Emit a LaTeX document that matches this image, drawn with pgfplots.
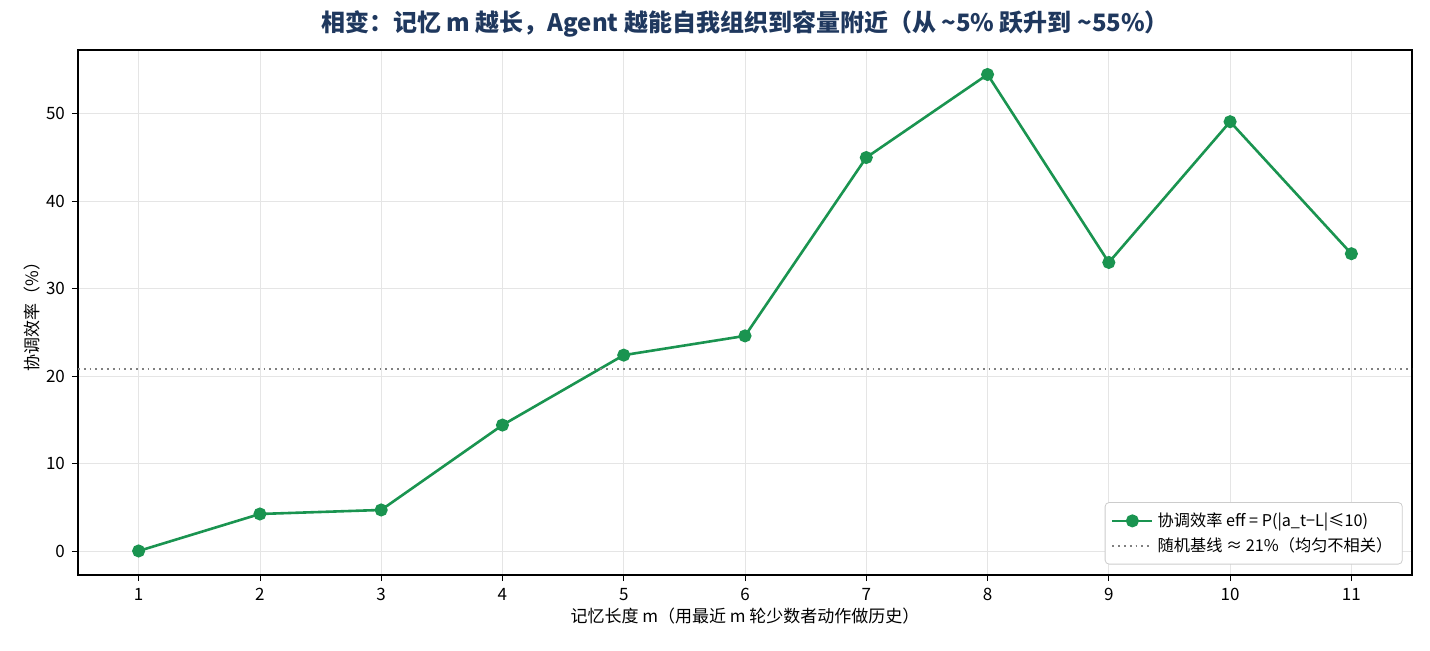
\documentclass[border=0pt]{standalone}
\usepackage{fontspec}
\setmainfont{Noto Sans CJK SC}
\usepackage{pgfplots}
\pgfplotsset{compat=1.18}
\definecolor{lgreen}{RGB}{26,148,80}
\definecolor{ttl}{RGB}{31,56,94}
\begin{document}
\begin{tikzpicture}
\begin{axis}[
  at={(0,0)}, anchor=south west,
  scale only axis,
  width=667pt, height=262.5pt,
  xmin=0.5, xmax=11.5, ymin=-2.75, ymax=57.3,
  xtick={1,...,11}, ytick={0,10,20,30,40,50},
  xtick pos=bottom, ytick pos=left,
  /pgf/number format/assume math mode=true,
  tick label style={font=\fontsize{8.5}{10}\selectfont},
  tick align=outside, tick style={black, thin},
  major tick length=3pt,
  grid=major, grid style={gray!20, line width=0.4pt},
  axis line style={black, line width=0.6pt},
  title={\textbf{相变：记忆 m 越长，Agent 越能自我组织到容量附近（从 \textasciitilde5\% 跃升到 \textasciitilde55\%）}},
  title style={font=\fontsize{12}{14}\selectfont, color=ttl, yshift=-3pt},
  xlabel={记忆长度 m（用最近 m 轮少数者动作做历史）},
  ylabel={协调效率（\%）},
  label style={font=\fontsize{8.5}{10}\selectfont},
  xlabel style={yshift=3pt},
  ylabel style={yshift=-4pt},
  legend style={font=\fontsize{8.1}{9.5}\selectfont, draw=gray!40, rounded corners=2pt, fill=white, at={(0.993,0.02)}, anchor=south east, row sep=0pt, inner sep=3pt},
  legend cell align=left,
  legend image code/.code={\draw[#1] (0pt,0pt) -- (20pt,0pt); \path[#1, mark repeat=2, mark phase=2] plot coordinates {(0pt,0pt) (10pt,0pt) (20pt,0pt)};},
  clip=false,
]
\addplot[lgreen, line width=1.3pt, mark=*, mark size=2.6pt, mark options={fill=lgreen, draw=lgreen}] coordinates {
(1,0) (2,4.23) (3,4.69) (4,14.4) (5,22.4) (6,24.6) (7,45.0) (8,54.5) (9,33.0) (10,49.1) (11,34.0)};
\addlegendentry{协调效率 eff = P(|a\_t−L|≤10)}
\addplot[gray, dotted, line width=0.9pt] coordinates {(0.5,20.85) (11.5,20.85)};
\addlegendentry{随机基线 ≈ 21\%（均匀不相关）}
\end{axis}
\pgfresetboundingbox
\path (-39pt,-37.5pt) rectangle (676pt,287.5pt);
\end{tikzpicture}
\end{document}
